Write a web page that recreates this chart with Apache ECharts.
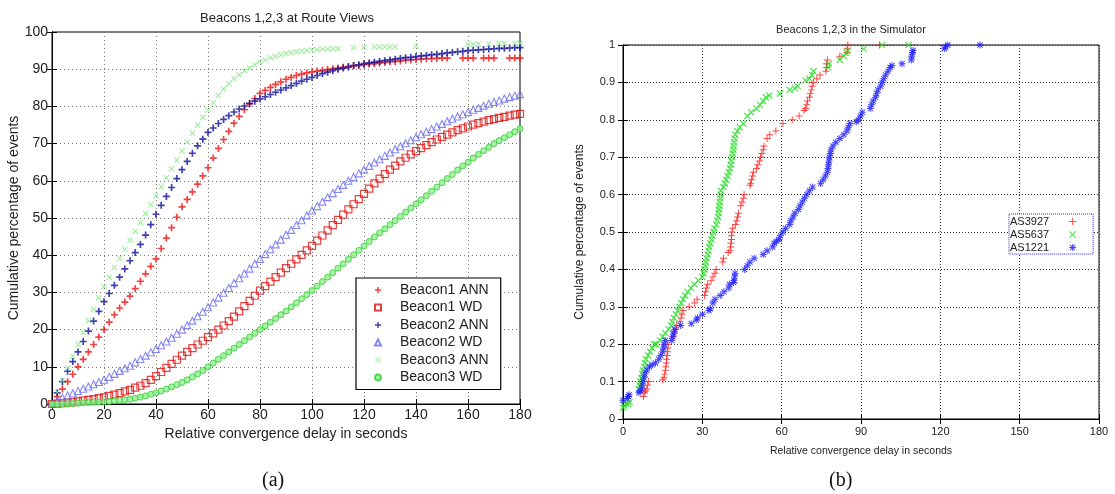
<!DOCTYPE html>
<html>
<head>
<meta charset="utf-8">
<title>Beacons 1,2,3 convergence delay</title>
<script src="https://cdn.jsdelivr.net/npm/echarts@6/dist/echarts.min.js"></script>
<style>
  html, body { margin: 0; padding: 0; background: #fff; }
  #chart { width: 1115px; height: 494px; }
</style>
</head>
<body>
<div id="chart"></div>
<script>
// (a) Route Views: cumulative % of events, read every 2 s (null = no event there)
const delaysA = [
  0, 2, 4, 6, 8, 10, 12, 14, 16, 18,
  20, 22, 24, 26, 28, 30, 32, 34, 36, 38,
  40, 42, 44, 46, 48, 50, 52, 54, 56, 58,
  60, 62, 64, 66, 68, 70, 72, 74, 76, 78,
  80, 82, 84, 86, 88, 90, 92, 94, 96, 98,
  100, 102, 104, 106, 108, 110, 112, 114, 116, 118,
  120, 122, 124, 126, 128, 130, 132, 134, 136, 138,
  140, 142, 144, 146, 148, 150, 152, 154, 156, 158,
  160, 162, 164, 166, 168, 170, 172, 174, 176, 178,
  180
];
const beacon1Ann = [
  0, 2, 4, 6, 8, 10, 12, 14, 16, 18,
  20, 22, 24, 25.8, 27.4, 29, 31, 33, 35, 37,
  39, 41.8, 44.6, 47.4, 50.2, 53, 55, 57, 59.1, 61.3,
  63.5, 66.1, 68.7, 71.1, 73.3, 75.5, 77.3, 79.1, 80.7, 82.1,
  83.5, 84.3, 85.1, 85.9, 86.6, 87.3, 87.8, 88.3, 88.7, 89,
  89.3, 89.5, 89.7, 89.9, 90.1, 90.3, 90.5, 90.7, 90.9, 91,
  91.2, 91.4, 91.5, 91.7, 91.8, 92, 92.1, 92.2, 92.4, 92.5,
  92.6, 92.7, 92.8, 92.8, 92.9, 93, 93, null, null, 93,
  93, 93, null, 93, 93, 93, null, null, 93, 93,
  93
];
const beacon1Wd = [
  0, 0.1, 0.2, 0.4, 0.5, 0.7, 0.9, 1.1, 1.3, 1.6,
  1.8, 2.2, 2.5, 2.9, 3.4, 3.8, 4.4, 4.9, 5.6, 6.5,
  7.5, 8.6, 9.7, 10.8, 11.9, 13, 14, 15, 16, 17,
  18, 19, 20, 21.1, 22.3, 23.5, 24.9, 26.3, 27.7, 29.1,
  30.5, 31.7, 32.9, 34.1, 35.3, 36.5, 37.7, 38.9, 40.1, 41.3,
  42.5, 43.9, 45.3, 46.7, 48.1, 49.5, 50.9, 52.3, 53.7, 55.1,
  56.5, 57.9, 59.3, 60.6, 61.8, 63, 64.1, 65.2, 66.2, 67.1,
  68, 68.8, 69.6, 70.4, 71.1, 71.8, 72.4, 73, 73.6, 74.1,
  74.6, 75.1, 75.5, 75.9, 76.3, 76.6, 76.9, 77.2, 77.5, 77.8,
  78
];
const beacon2Ann = [
  0, 3, 6, 8.8, 11.4, 14, 16.8, 19.6, 22.3, 24.9,
  27.5, 29.7, 31.9, 34.1, 36.3, 38.5, 40.7, 42.9, 45.4, 48.2,
  51, 53.4, 55.8, 58.2, 60.6, 63, 65.2, 67.4, 69.4, 71.2,
  73, 74.2, 75.4, 76.5, 77.5, 78.5, 79.3, 80.1, 80.8, 81.4,
  82, 82.6, 83.2, 83.8, 84.4, 85, 85.6, 86.2, 86.8, 87.3,
  87.8, 88.3, 88.8, 89.2, 89.6, 90, 90.3, 90.6, 91, 91.2,
  91.5, 91.7, 91.9, 92.1, 92.3, 92.5, 92.7, 92.9, 93.1, 93.2,
  93.4, 93.6, 93.7, 93.9, 94, 94.2, 94.4, 94.5, 94.7, 94.8,
  95, 95.1, 95.2, 95.3, 95.4, 95.5, 95.6, 95.6, 95.7, 95.8,
  95.8
];
const beacon2Wd = [
  0, 0.9, 1.7, 2.3, 2.9, 3.5, 4.1, 4.7, 5.3, 5.9,
  6.5, 7.3, 8.1, 8.9, 9.6, 10.3, 11.2, 12.1, 13, 13.9,
  14.8, 15.8, 16.8, 17.8, 18.9, 20, 21.2, 22.4, 23.6, 24.8,
  26, 27.3, 28.6, 29.9, 31.2, 32.5, 33.8, 35.1, 36.4, 37.7,
  39, 40.3, 41.6, 42.9, 44.2, 45.5, 46.8, 48.1, 49.4, 50.7,
  52, 53.2, 54.4, 55.6, 56.7, 57.8, 58.9, 60, 61, 62,
  63, 64, 64.9, 65.8, 66.7, 67.6, 68.5, 69.3, 70.1, 70.9,
  71.7, 72.5, 73.2, 73.9, 74.6, 75.3, 76, 76.7, 77.3, 77.9,
  78.5, 79.1, 79.6, 80.2, 80.7, 81.2, 81.6, 82.1, 82.5, 82.9,
  83.3
];
const beacon3Ann = [
  0, 3.2, 6.4, 9.6, 12.8, 16, 19.2, 22.4, 25.5, 28.5,
  31.5, 34.1, 36.7, 39.2, 41.6, 44, 46.4, 48.8, 51.2, 53.6,
  56, 58.4, 60.8, 63.2, 65.6, 68, 70.4, 72.8, 75, 77,
  79, 81, 83, 84.7, 86.1, 87.5, 88.5, 89.5, 90.4, 91.2,
  92, 92.5, 93.1, 93.5, 93.9, 94.2, 94.4, 94.7, 94.9, 95,
  95.2, 95.3, 95.4, 95.4, 95.5, 95.5, null, null, 95.8, null,
  95.9, null, 96, 96, 96, 96, 96, null, null, null,
  96.2, null, null, null, null, null, null, null, null, null,
  96.7, 96.7, 96.8, null, 96.8, null, 96.9, 96.9, null, 96.9,
  97
];
const beacon3Wd = [
  0, 0, 0, 0.05, 0.1, 0.2, 0.3, 0.35, 0.45, 0.5,
  0.6, 0.7, 0.85, 1, 1.15, 1.3, 1.55, 1.85, 2.2, 2.6,
  3, 3.5, 4, 4.6, 5.2, 5.8, 6.5, 7.3, 8.1, 9,
  10, 11, 12, 13, 14, 15, 16, 17, 18, 19,
  20, 21, 22, 23, 24, 25, 26.1, 27.2, 28.3, 29.4,
  30.5, 31.7, 32.9, 34.1, 35.3, 36.5, 37.7, 38.9, 40.1, 41.3,
  42.5, 43.7, 44.9, 46, 47.1, 48.2, 49.3, 50.4, 51.6, 52.7,
  53.8, 54.9, 56, 57.2, 58.3, 59.5, 60.6, 61.7, 62.9, 64,
  65, 66.1, 67.1, 68.1, 69, 70, 70.8, 71.6, 72.4, 73.2,
  74
];

// (b) simulator: [delay s, cumulative fraction]
const as3927 = [
  [7.7, 0.06], [8, 0.07], [8.5, 0.075], [9, 0.08], [9.3, 0.09], [9.7, 0.1],
  [15, 0.105], [15.5, 0.11], [15.8, 0.12], [16, 0.13], [16.2, 0.14], [16.4, 0.15],
  [16.5, 0.16], [16.7, 0.17], [16.8, 0.18], [17, 0.19], [17, 0.2],
  [19, 0.22], [19.5, 0.23], [20, 0.24], [20.3, 0.25],
  [21.5, 0.26], [22, 0.27], [22.3, 0.28], [22.7, 0.29],
  [25, 0.3], [27, 0.31], [28, 0.32],
  [30.8, 0.33], [31.2, 0.34], [31.6, 0.35], [32, 0.36],
  [33.3, 0.37], [34, 0.38], [34.7, 0.39], [35.2, 0.4],
  [37.7, 0.42], [38, 0.43],
  [39.8, 0.445], [40.5, 0.45], [40.7, 0.46], [40.8, 0.47], [41, 0.48], [41, 0.49], [41.2, 0.5], [41.5, 0.51],
  [42.5, 0.52], [43, 0.53], [43.3, 0.54], [43.7, 0.55],
  [44.5, 0.57], [45, 0.58], [45.5, 0.59], [45.8, 0.6],
  [48, 0.625], [48.3, 0.63], [48.6, 0.64], [49, 0.65], [49.3, 0.66],
  [50.5, 0.67], [51, 0.68], [51.6, 0.69], [52, 0.7], [52.5, 0.71], [53, 0.72], [53.3, 0.73],
  [54.5, 0.75], [55.5, 0.76], [57.8, 0.77],
  [60.5, 0.79], [64, 0.8], [66.6, 0.81],
  [68.5, 0.825], [69, 0.83], [69.5, 0.84], [69.8, 0.85], [70.5, 0.86], [70.8, 0.87], [71.2, 0.88], [71.5, 0.89], [72, 0.9],
  [73.3, 0.91], [74.5, 0.92],
  [76.7, 0.93], [77, 0.94], [77, 0.95], [77.3, 0.96],
  [82, 0.97], [84.7, 0.98], [84.8, 0.99], [85, 1.0], [97, 1.0]
];
const as5637 = [
  [0, 0.03], [0.5, 0.035], [1, 0.04], [2, 0.04], [2.5, 0.045],
  [6, 0.08], [6.3, 0.09], [6.6, 0.1], [7, 0.11], [7.3, 0.12], [7.6, 0.13], [8, 0.14], [8.3, 0.15], [8.7, 0.16],
  [9.5, 0.17], [10.3, 0.18], [11, 0.19], [11.8, 0.2], [12.5, 0.2],
  [14, 0.21], [15, 0.22], [16, 0.23], [17.2, 0.24],
  [18.2, 0.25], [18.7, 0.26], [19.2, 0.27], [20, 0.28], [20.7, 0.29], [21.3, 0.3], [22, 0.31], [22.7, 0.32], [23.5, 0.33],
  [24.5, 0.34], [25.7, 0.35], [27, 0.36], [28.5, 0.37],
  [30, 0.38], [30.5, 0.39], [30.8, 0.4], [31, 0.41], [31.3, 0.42], [31.6, 0.43], [32, 0.44], [32.3, 0.45],
  [32.6, 0.46], [33, 0.47], [33.4, 0.48], [33.8, 0.49], [34.2, 0.5], [34.6, 0.51],
  [35.3, 0.52], [35.6, 0.53], [36, 0.54], [36.2, 0.55], [36.3, 0.56], [36.4, 0.57], [36.6, 0.58], [36.8, 0.59], [37, 0.6], [37, 0.61],
  [38, 0.62], [38.5, 0.63], [39, 0.64], [39.5, 0.65], [40, 0.66],
  [40.5, 0.67], [40.8, 0.68], [41, 0.69], [41.3, 0.7], [41.5, 0.71], [41.7, 0.72], [41.8, 0.73], [42, 0.74], [42.2, 0.75], [42.4, 0.76],
  [43.2, 0.77], [44.2, 0.78], [45.5, 0.79],
  [47, 0.81], [48.5, 0.82], [50.5, 0.83], [51.8, 0.84], [53, 0.85], [54, 0.86], [55.3, 0.865],
  [59.3, 0.87], [63, 0.88], [65, 0.885], [66, 0.89],
  [69, 0.905], [70.5, 0.91], [71.5, 0.92], [72, 0.93],
  [77.6, 0.94], [77.8, 0.95], [82, 0.96], [83.5, 0.97], [84.5, 0.98], [85, 0.985],
  [91, 0.99], [98, 1.0], [108, 1.0]
];
const as1221 = [
  [0, 0.05], [1.6, 0.055], [2, 0.06], [2.3, 0.065],
  [6, 0.07], [6.5, 0.075], [7, 0.08], [7.3, 0.09], [7.6, 0.1], [8, 0.11], [8.3, 0.12],
  [9, 0.13], [10, 0.14], [11, 0.145], [12.3, 0.15], [13.5, 0.16], [14.3, 0.17],
  [15, 0.18], [15.3, 0.19], [15.6, 0.2], [16, 0.21],
  [18.4, 0.21], [18.8, 0.22], [19.2, 0.23], [19.6, 0.24],
  [21.8, 0.25], [25.8, 0.255], [27.7, 0.265], [28.2, 0.27],
  [30, 0.28],
  [32.5, 0.29], [33, 0.295], [34, 0.31], [34.8, 0.32],
  [36.8, 0.33], [38.2, 0.34],
  [40, 0.35], [40.3, 0.36],
  [41.8, 0.365], [42, 0.37], [42.2, 0.38], [42.4, 0.39],
  [46, 0.4], [47, 0.41], [48, 0.42], [49.6, 0.43],
  [53, 0.44], [54.5, 0.45],
  [56.6, 0.46], [57.2, 0.47], [58, 0.475],
  [59, 0.48], [59.5, 0.49], [60.5, 0.5], [61.5, 0.51],
  [63, 0.52], [63.5, 0.53], [64.3, 0.54], [65, 0.55],
  [66.3, 0.56], [67, 0.57], [67.8, 0.58], [68.6, 0.59],
  [69.5, 0.6], [70.5, 0.61], [71.7, 0.62],
  [74.7, 0.63], [75.7, 0.64], [76.5, 0.65],
  [77.3, 0.66], [77.5, 0.67], [77.7, 0.68], [77.9, 0.69], [78.1, 0.7], [78.4, 0.71], [78.7, 0.72],
  [79.4, 0.73], [80.5, 0.74],
  [82, 0.75], [83.5, 0.76],
  [84.7, 0.77], [85.2, 0.78], [85.8, 0.79],
  [88.2, 0.795], [89, 0.8], [89.8, 0.81], [90.5, 0.82],
  [93.5, 0.83], [94, 0.84], [94.6, 0.85],
  [95.5, 0.86], [95.9, 0.87], [96.4, 0.88],
  [97.4, 0.89], [98, 0.9], [98.6, 0.91], [99.3, 0.92], [100.2, 0.93], [101, 0.94], [101.7, 0.945],
  [105.5, 0.95],
  [109, 0.96], [109.2, 0.97], [109.5, 0.98], [109.7, 0.985],
  [121.5, 0.99], [122, 0.995], [122.8, 1.0], [135, 1.0]
];

const FONT = 'Liberation Sans';
const PLUS = 'path://M0,3.8H10V6.2H0ZM3.8,0H6.2V10H3.8Z';
const THIN_PLUS = 'path://M0,4.3H10V5.7H0ZM4.3,0H5.7V10H4.3Z';
const CROSS = 'path://M0,1.2L1.2,0L5,3.8L8.8,0L10,1.2L6.2,5L10,8.8L8.8,10L5,6.2L1.2,10L0,8.8L3.8,5Z';
const STAR = 'path://M0,4.3H10V5.7H0ZM4.3,0H5.7V10H4.3ZM0.7,1.7L1.7,0.7L9.3,8.3L8.3,9.3ZM8.3,0.7L9.3,1.7L1.7,9.3L0.7,8.3Z';

const pairs = (xs, ys) => xs.map((x, i) => [x, ys[i]]).filter((p) => p[1] != null);

const chart = echarts.init(document.getElementById('chart'));

function axisPair(gridIndex, min, max, interval, labelFmt, labelSize, margin) {
    return {
        gridIndex,
        type: 'value',
        min,
        max,
        interval,
        axisLine: { show: true, lineStyle: { color: '#000', width: 1 } },
        axisTick: { show: true, inside: true, length: 5, lineStyle: { color: '#000' } },
        axisLabel: { color: '#222', fontFamily: FONT, fontSize: labelSize, margin, formatter: labelFmt },
    };
}

const leftGrid = { left: 52, top: 32, width: 468, height: 372 };
const rightGrid = { left: 623, top: 45, width: 476, height: 374 };

const fmtFrac = (v) => (v === 0 ? '0' : v === 1 ? '1' : v.toFixed(1));

const mirror = (ax, pos) => Object.assign({}, ax, {
    position: pos,
    axisLabel: { show: false },
    splitLine: { show: false },
    name: '',
});

const xA = Object.assign(axisPair(0, 0, 180, 20, null, 14, 4), {
    name: 'Relative convergence delay in seconds',
    nameLocation: 'middle',
    nameGap: 21,
    nameTextStyle: { color: '#222', fontFamily: FONT, fontSize: 14 },
    splitLine: { show: true, lineStyle: { color: '#777', type: [1, 3] } },
});
const yA = Object.assign(axisPair(0, 0, 100, 10, null, 14, 4), {
    name: 'Cumulative percentage of events',
    nameLocation: 'middle',
    nameGap: 30,
    nameTextStyle: { color: '#222', fontFamily: FONT, fontSize: 14 },
    splitLine: { show: true, lineStyle: { color: '#777', type: [1, 3] } },
});
const xB = Object.assign(axisPair(1, 0, 180, 30, null, 11, 7), {
    name: 'Relative convergence delay in seconds',
    nameLocation: 'middle',
    nameGap: 27,
    nameTextStyle: { color: '#222', fontFamily: FONT, fontSize: 10.5 },
    splitLine: { show: true, lineStyle: { color: '#333', type: [1, 2] } },
});
const yB = Object.assign(axisPair(1, 0, 1, 0.1, fmtFrac, 11, 8), {
    name: 'Cumulative percentage of events',
    nameLocation: 'middle',
    nameGap: 37,
    nameTextStyle: { color: '#222', fontFamily: FONT, fontSize: 12 },
    splitLine: { show: true, lineStyle: { color: '#333', type: [1, 2] } },
});

const scatter = (name, data, symbol, size, style, xi, yi) => ({
    name,
    type: 'scatter',
    xAxisIndex: xi,
    yAxisIndex: yi,
    data,
    symbol,
    symbolSize: size,
    itemStyle: style,
    emphasis: { disabled: true },
});

const option = {
    animation: false,
    backgroundColor: '#fff',
    title: [
        {
            text: 'Beacons 1,2,3 at Route Views',
            left: 282, top: 7, textAlign: 'center',
            textStyle: { fontFamily: FONT, fontSize: 13, fontWeight: 'normal', color: '#222' },
        },
        {
            text: 'Beacons 1,2,3 in the Simulator',
            left: 846, top: 19, textAlign: 'center',
            textStyle: { fontFamily: FONT, fontSize: 11, fontWeight: 'normal', color: '#222' },
        },
    ],
    grid: [
        Object.assign({ show: true, borderColor: '#000', borderWidth: 1, backgroundColor: '#fff' }, leftGrid),
        Object.assign({ show: true, borderColor: '#000', borderWidth: 1, backgroundColor: '#fff' }, rightGrid),
    ],
    xAxis: [xA, xB, mirror(xA, 'top'), mirror(xB, 'top')],
    yAxis: [yA, yB, mirror(yA, 'right'), mirror(yB, 'right')],
    legend: [
        {
            data: ['Beacon1 ANN', 'Beacon1 WD', 'Beacon2 ANN', 'Beacon2 WD', 'Beacon3 ANN', 'Beacon3 WD'],
            orient: 'vertical',
            left: 356, top: 278,
            padding: [5, 12, 5, 18],
            itemWidth: 6, itemHeight: 6, itemGap: 3.5,
            backgroundColor: '#fff', borderColor: '#000', borderWidth: 1.2,
            selectedMode: false,
            textStyle: { fontFamily: FONT, fontSize: 14, color: '#222', lineHeight: 14, padding: [0, 0, 0, 14] },
        },
        {
            data: ['AS3927', 'AS5637', 'AS1221'],
            orient: 'vertical',
            align: 'right',
            left: 1009, top: 214,
            padding: [2, 17, 1, 1],
            itemWidth: 7, itemHeight: 7, itemGap: 2,
            backgroundColor: '#fff', borderColor: '#2222ee', borderWidth: 1, borderType: 'dotted',
            selectedMode: false,
            textStyle: { fontFamily: FONT, fontSize: 11, color: '#222', lineHeight: 11, padding: [0, 15, 0, 0] },
        },
    ],
    graphic: [
        { type: 'text', left: 262, top: 471, style: { text: '(a)', font: '20px "Liberation Serif"', fill: '#111' } },
        { type: 'text', left: 829, top: 471, style: { text: '(b)', font: '20px "Liberation Serif"', fill: '#111' } },
    ],
    series: [
        scatter('Beacon1 ANN', pairs(delaysA, beacon1Ann), PLUS, 7, { color: '#ee1111' }, 0, 0),
        scatter('Beacon1 WD', pairs(delaysA, beacon1Wd), 'rect', 7,
            { color: 'rgba(0,0,0,0)', borderColor: '#dd1111', borderWidth: 1.2 }, 0, 0),
        scatter('Beacon2 ANN', pairs(delaysA, beacon2Ann), PLUS, 7, { color: '#10109a' }, 0, 0),
        scatter('Beacon2 WD', pairs(delaysA, beacon2Wd), 'triangle', 7,
            { color: 'rgba(0,0,0,0)', borderColor: '#6a6af0', borderWidth: 1.1 }, 0, 0),
        scatter('Beacon3 ANN', pairs(delaysA, beacon3Ann), CROSS, 6, { color: '#7fe87f' }, 0, 0),
        scatter('Beacon3 WD', pairs(delaysA, beacon3Wd), 'circle', 6,
            { color: '#8ff08f', borderColor: '#33cc33', borderWidth: 1 }, 0, 0),

        scatter('AS3927', as3927, THIN_PLUS, 7, { color: '#ff1a1a' }, 1, 1),
        scatter('AS5637', as5637, CROSS, 7, { color: '#22dd22' }, 1, 1),
        scatter('AS1221', as1221, STAR, 7, { color: '#1a1aff' }, 1, 1),
    ],
};

chart.setOption(option);
</script>
</body>
</html>
